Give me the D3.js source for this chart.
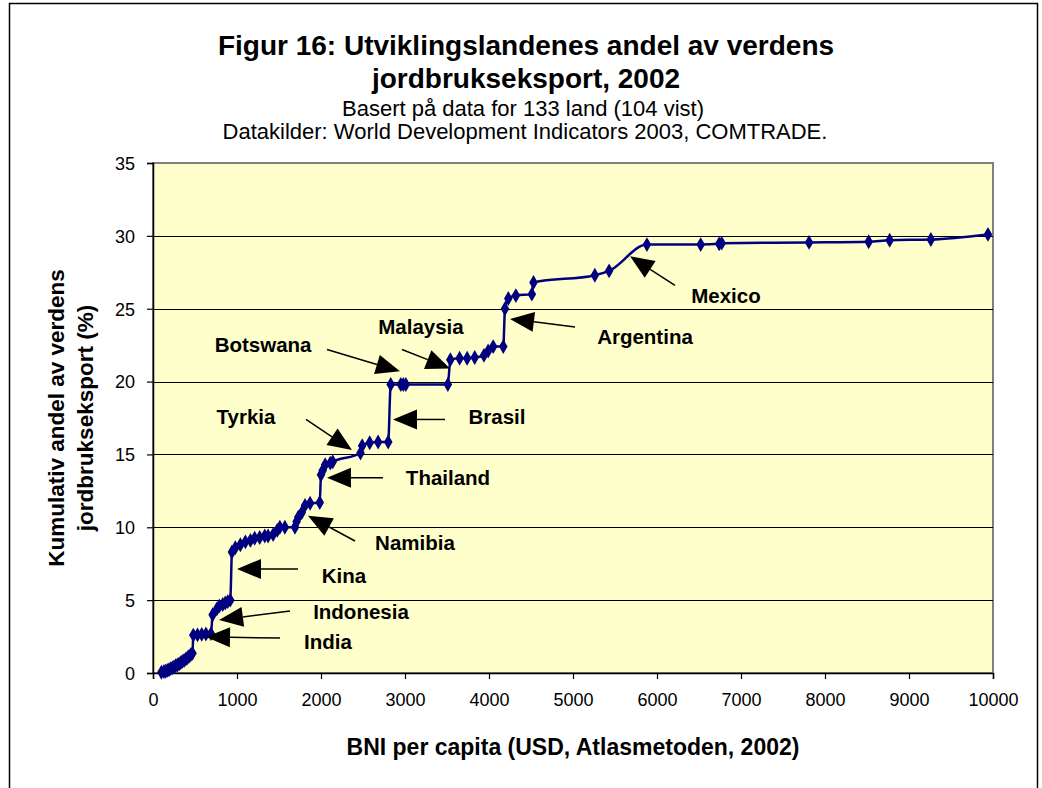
<!DOCTYPE html>
<html>
<head>
<meta charset="utf-8">
<script src="https://cdn.jsdelivr.net/npm/d3@7"></script>
<style>
  body { margin: 0; background: #fff; }
  text { font-family: "Liberation Sans", Arial, sans-serif; }
</style>
</head>
<body>
<div id="chart"></div>
<script>
var w = 1042, h = 788;

// BNI per capita (USD) for each country, sorted
var gni = [100, 130, 150, 170, 190, 210, 230, 250, 270, 290, 310, 330, 350, 370, 390, 410, 430, 450, 470,
    480, 530, 580, 630, 690, 710, 760, 790, 830, 860, 890, 920,
    940, 980, 1040, 1100, 1160, 1210, 1270, 1330, 1370, 1430, 1480, 1510, 1570, 1690, 1710, 1730, 1770, 1810, 1870, 1985,
    2000, 2020, 2050, 2110, 2140, 2470, 2490, 2580, 2680, 2800,
    2830, 2950, 2980, 3010, 3510,
    3540, 3650, 3740, 3830, 3940, 3990, 4050, 4170,
    4190, 4230, 4320, 4510, 4530, 5260, 5430,
    5880, 6520, 6740, 6770, 7810, 8520, 8770, 9260, 9940];
// cumulative share of world agricultural exports (%)
var share = [0.05, 0.1, 0.12, 0.18, 0.22, 0.3, 0.35, 0.42, 0.5, 0.55, 0.62, 0.7, 0.8, 0.86, 0.95, 1.05, 1.15, 1.25, 1.35,
    2.6, 2.62, 2.65, 2.68, 2.7, 4.0, 4.4, 4.6, 4.7, 4.8, 4.9, 5.0,
    8.3, 8.6, 8.8, 9.0, 9.1, 9.25, 9.3, 9.4, 9.4, 9.5, 9.8, 10.0, 10.0, 10.0, 10.4, 10.7, 11.0, 11.5, 11.65, 11.7,
    13.6, 13.9, 14.3, 14.4, 14.5, 15.1, 15.6, 15.8, 15.85, 15.85,
    19.8, 19.8, 19.8, 19.8, 19.8,
    21.5, 21.6, 21.6, 21.65, 21.8, 22.1, 22.4, 22.4,
    25.0, 25.7, 25.9, 26.0, 26.8, 27.3, 27.6,
    29.4, 29.4, 29.45, 29.5, 29.55, 29.6, 29.7, 29.75, 30.1];

var xTicks = [0, 1000, 2000, 3000, 4000, 5000, 6000, 7000, 8000, 9000, 10000];
var yTicks = [0, 5, 10, 15, 20, 25, 30, 35];

// annotated countries: label spot, arrow tail and tip (data units)
var labels = ["Mexico", "Argentina", "Malaysia", "Botswana", "Brasil", "Tyrkia", "Thailand", "Namibia", "Kina", "Indonesia", "India"];
var labelX = [6821, 5857, 3190, 1310, 4095, 1107, 3512, 3119, 2274, 2476, 2083];
var labelY = [25.9, 23.1, 23.75, 22.5, 17.6, 17.6, 13.4, 8.9, 6.66, 4.19, 2.13];
var tailX = [6214, 5024, 2964, 2071, 3476, 1821, 2738, 2405, 1726, 1631, 1512];
var tailY = [26.6, 23.75, 22.2, 22.2, 17.4, 17.4, 13.4, 9.06, 7.14, 4.26, 2.4];
var tipX = [5679, 4250, 3536, 2940, 2857, 2369, 2071, 1845, 1000, 786, 631];
var tipY = [28.6, 24.3, 20.9, 20.7, 17.4, 15.3, 13.4, 10.8, 7.14, 3.64, 2.47];

var plotL = 153, plotR = 993, plotT = 163, plotB = 673;

var svg = d3.select("#chart").append("svg")
    .attr("width", w)
    .attr("height", h);

//outer frame
svg.append("rect")
    .attr("x", 9.5).attr("y", 3.5)
    .attr("width", 1028).attr("height", 800)
    .attr("fill", "#fff").attr("stroke", "#000").attr("stroke-width", 1.5);

var x = d3.scaleLinear().domain([0, 10000]).range([plotL, plotR]);
var y = d3.scaleLinear().domain([0, 35]).range([plotB, plotT]);

//plot area
svg.append("rect")
    .attr("x", plotL).attr("y", plotT)
    .attr("width", plotR - plotL).attr("height", plotB - plotT)
    .attr("fill", "#ffffcc")
    .attr("stroke", "#808080").attr("stroke-width", 2);

//gridlines
svg.selectAll(".grid")
    .data(yTicks.filter(function (d) { return d > 0 && d < 35; }))
    .enter().append("line")
    .attr("x1", plotL).attr("x2", plotR)
    .attr("y1", function (d) { return Math.round(y(d)) + 0.5; })
    .attr("y2", function (d) { return Math.round(y(d)) + 0.5; })
    .attr("stroke", "#000").attr("stroke-width", 1);

//axes
var xAxis = svg.append("g")
    .attr("transform", "translate(0," + plotB + ")")
    .call(d3.axisBottom(x).tickValues(xTicks).tickSize(6).tickPadding(14).tickFormat(d3.format("d")));
var yAxis = svg.append("g")
    .attr("transform", "translate(" + plotL + ",0)")
    .call(d3.axisLeft(y).tickValues(yTicks).tickSize(6).tickPadding(12));
[xAxis, yAxis].forEach(function (a) {
    a.select(".domain").attr("stroke", "#000").attr("stroke-width", 1.5);
    a.selectAll(".tick line").attr("stroke", "#000").attr("stroke-width", 1.2);
    a.selectAll(".tick text")
        .attr("font-size", 18)
        .attr("fill", "#000")
        .style("font-family", "'Liberation Sans', Arial, sans-serif");
});
yAxis.selectAll(".tick text").attr("dy", "0.35em");

//series
var pts = gni.map(function (g, i) { return [g, share[i]]; });
var line = d3.line()
    .x(function (d) { return x(d[0]); })
    .y(function (d) { return y(d[1]); })
    .curve(d3.curveMonotoneX);

svg.append("path")
    .attr("d", line(pts))
    .attr("fill", "none")
    .attr("stroke", "#000080")
    .attr("stroke-width", 2.5);

var diamond = d3.symbol().type(d3.symbolDiamond).size(64);
svg.selectAll(".pt")
    .data(pts)
    .enter().append("path")
    .attr("d", diamond)
    .attr("transform", function (d) { return "translate(" + x(d[0]) + "," + y(d[1]) + ")"; })
    .attr("fill", "#000080");

//annotations
labels.forEach(function (name, i) {
    var x0 = x(tailX[i]), y0 = y(tailY[i]);
    var x1 = x(tipX[i]), y1 = y(tipY[i]);
    var dx = x1 - x0, dy = y1 - y0;
    var len = Math.sqrt(dx * dx + dy * dy);
    var ux = dx / len, uy = dy / len;
    var headLen = 24, headW = 10;
    var bx = x1 - ux * headLen, by = y1 - uy * headLen;
    svg.append("line")
        .attr("x1", x0).attr("y1", y0)
        .attr("x2", bx).attr("y2", by)
        .attr("stroke", "#000").attr("stroke-width", 1.5);
    svg.append("path")
        .attr("d", "M" + x1 + "," + y1 +
            "L" + (bx - uy * headW) + "," + (by + ux * headW) +
            "L" + (bx + uy * headW) + "," + (by - ux * headW) + "Z")
        .attr("fill", "#000");
    svg.append("text")
        .attr("x", x(labelX[i]))
        .attr("y", y(labelY[i]))
        .attr("dy", "0.35em")
        .attr("text-anchor", "middle")
        .attr("font-size", 20.5)
        .attr("font-weight", "bold")
        .text(name);
});

//titles
svg.append("text").attr("x", 526).attr("y", 55)
    .attr("text-anchor", "middle").attr("font-size", 28).attr("font-weight", "bold")
    .text("Figur 16: Utviklingslandenes andel av verdens");
svg.append("text").attr("x", 526).attr("y", 88)
    .attr("text-anchor", "middle").attr("font-size", 28).attr("font-weight", "bold")
    .text("jordbrukseksport, 2002");
svg.append("text").attr("x", 523).attr("y", 116)
    .attr("text-anchor", "middle").attr("font-size", 22)
    .text("Basert på data for 133 land (104 vist)");
svg.append("text").attr("x", 525).attr("y", 139)
    .attr("text-anchor", "middle").attr("font-size", 22)
    .text("Datakilder: World Development Indicators 2003, COMTRADE.");

svg.append("text").attr("x", (plotL + plotR) / 2).attr("y", 755)
    .attr("text-anchor", "middle").attr("font-size", 23).attr("font-weight", "bold")
    .text("BNI per capita (USD, Atlasmetoden, 2002)");

var yTitle = svg.append("text")
    .attr("transform", "translate(64,418) rotate(-90)")
    .attr("text-anchor", "middle").attr("font-size", 22.5).attr("font-weight", "bold");
yTitle.append("tspan").attr("x", 0).attr("y", 0).text("Kumulativ andel av verdens");
yTitle.append("tspan").attr("x", 0).attr("y", 29).text("jordbrukseksport (%)");
</script>
</body>
</html>
